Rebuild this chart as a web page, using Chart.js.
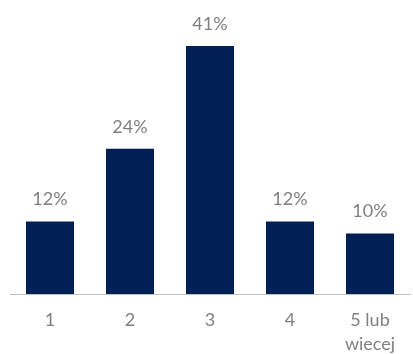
<!DOCTYPE html>
<html>
<head>
<meta charset="utf-8">
<script src="https://cdn.jsdelivr.net/npm/chart.js@4/dist/chart.umd.min.js"></script>
<style>
  html, body { margin: 0; padding: 0; background: #fff; }
  #wrap { width: 413px; height: 354px; }
</style>
</head>
<body>
<div id="wrap"><canvas id="chart"></canvas></div>
<script>
const categories = ['1', '2', '3', '4', ['5 lub', 'wiecej']];
const shares = [12, 24, 41, 12, 10];

const barColor = '#002055';
const textColor = '#808080';
const fontFamily = 'Lato, "Open Sans", sans-serif';

// value labels above each bar
const valueLabels = {
  id: 'valueLabels',
  afterDatasetsDraw(chart) {
    const ctx = chart.ctx;
    const meta = chart.getDatasetMeta(0);
    ctx.save();
    ctx.fillStyle = textColor;
    ctx.font = '18px ' + fontFamily;
    ctx.textAlign = 'center';
    ctx.textBaseline = 'middle';
    meta.data.forEach((bar, i) => {
      ctx.fillText(shares[i] + '%', bar.x, bar.y - 22);
    });
    ctx.restore();
  }
};

new Chart(document.getElementById('chart'), {
  type: 'bar',
  data: {
    labels: categories,
    datasets: [{
      data: shares,
      backgroundColor: barColor,
      categoryPercentage: 0.6,
      barPercentage: 1.0
    }]
  },
  options: {
    responsive: true,
    maintainAspectRatio: false,
    animation: false,
    layout: { padding: { left: 10, right: 3, top: 46, bottom: 0 } },
    plugins: {
      legend: { display: false },
      tooltip: { enabled: false }
    },
    scales: {
      x: {
        grid: { display: false },
        border: { display: true, color: '#c0c0c0', width: 1 },
        ticks: {
          color: textColor,
          font: { family: fontFamily, size: 18, lineHeight: 1.35 },
          padding: 6,
          maxRotation: 0
        },
        afterFit(scale) { scale.height = 60; }
      },
      y: {
        display: false,
        min: 0,
        max: 41
      }
    }
  },
  plugins: [valueLabels]
});
</script>
</body>
</html>
